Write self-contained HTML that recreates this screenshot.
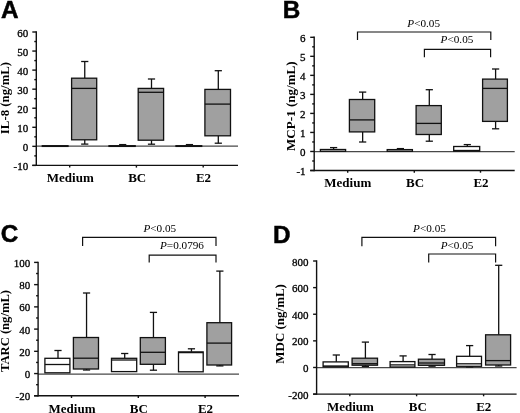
<!DOCTYPE html>
<html><head><meta charset="utf-8"><style>
html,body{margin:0;padding:0;background:#fff;}
body{width:520px;height:413px;overflow:hidden;}
svg{display:block;will-change:transform;}
</style></head><body>
<svg width="520" height="413" viewBox="0 0 520 413">
<rect width="520" height="413" fill="#fff"/>
<line x1="36.30" y1="146.20" x2="238.00" y2="146.20" stroke="#484848" stroke-width="1.2"/>
<rect x="42.30" y="145.70" width="25.70" height="0.70" fill="#fff" stroke="#111" stroke-width="1.3"/>
<line x1="84.75" y1="61.50" x2="84.75" y2="78.20" stroke="#111" stroke-width="1.3"/>
<line x1="81.15" y1="61.50" x2="88.35" y2="61.50" stroke="#111" stroke-width="1.3"/>
<line x1="84.75" y1="139.80" x2="84.75" y2="144.10" stroke="#111" stroke-width="1.3"/>
<line x1="81.15" y1="144.10" x2="88.35" y2="144.10" stroke="#111" stroke-width="1.3"/>
<rect x="71.60" y="78.20" width="25.10" height="61.60" fill="#a0a0a0" stroke="#111" stroke-width="1.3"/>
<line x1="71.60" y1="88.40" x2="96.70" y2="88.40" stroke="#111" stroke-width="1.3"/>
<line x1="122.70" y1="144.60" x2="122.70" y2="145.70" stroke="#111" stroke-width="1.3"/>
<line x1="119.10" y1="144.60" x2="126.30" y2="144.60" stroke="#111" stroke-width="1.3"/>
<rect x="109.00" y="145.70" width="26.20" height="0.70" fill="#fff" stroke="#111" stroke-width="1.3"/>
<line x1="151.50" y1="79.00" x2="151.50" y2="88.40" stroke="#111" stroke-width="1.3"/>
<line x1="147.90" y1="79.00" x2="155.10" y2="79.00" stroke="#111" stroke-width="1.3"/>
<line x1="151.50" y1="140.20" x2="151.50" y2="144.20" stroke="#111" stroke-width="1.3"/>
<line x1="147.90" y1="144.20" x2="155.10" y2="144.20" stroke="#111" stroke-width="1.3"/>
<rect x="138.20" y="88.40" width="25.40" height="51.80" fill="#a0a0a0" stroke="#111" stroke-width="1.3"/>
<line x1="138.20" y1="92.30" x2="163.60" y2="92.30" stroke="#111" stroke-width="1.3"/>
<line x1="189.45" y1="144.60" x2="189.45" y2="145.70" stroke="#111" stroke-width="1.3"/>
<line x1="185.85" y1="144.60" x2="193.05" y2="144.60" stroke="#111" stroke-width="1.3"/>
<rect x="176.00" y="145.70" width="25.70" height="0.70" fill="#fff" stroke="#111" stroke-width="1.3"/>
<line x1="218.30" y1="70.70" x2="218.30" y2="89.40" stroke="#111" stroke-width="1.3"/>
<line x1="214.70" y1="70.70" x2="221.90" y2="70.70" stroke="#111" stroke-width="1.3"/>
<line x1="218.30" y1="135.80" x2="218.30" y2="143.20" stroke="#111" stroke-width="1.3"/>
<line x1="214.70" y1="143.20" x2="221.90" y2="143.20" stroke="#111" stroke-width="1.3"/>
<rect x="204.90" y="89.40" width="25.60" height="46.40" fill="#a0a0a0" stroke="#111" stroke-width="1.3"/>
<line x1="204.90" y1="104.10" x2="230.50" y2="104.10" stroke="#111" stroke-width="1.3"/>
<line x1="36.30" y1="31.30" x2="36.30" y2="166.10" stroke="#111" stroke-width="1.4"/>
<line x1="32.30" y1="165.40" x2="238.00" y2="165.40" stroke="#111" stroke-width="1.4"/>
<line x1="32.30" y1="32.00" x2="36.30" y2="32.00" stroke="#111" stroke-width="1.4"/>
<text x="28.20" y="36.55" font-family='"Liberation Serif", serif' font-size="11.0" font-weight="normal" text-anchor="end" stroke="#000" stroke-width="0.3">60</text>
<line x1="32.30" y1="51.06" x2="36.30" y2="51.06" stroke="#111" stroke-width="1.4"/>
<text x="28.20" y="55.61" font-family='"Liberation Serif", serif' font-size="11.0" font-weight="normal" text-anchor="end" stroke="#000" stroke-width="0.3">50</text>
<line x1="32.30" y1="70.11" x2="36.30" y2="70.11" stroke="#111" stroke-width="1.4"/>
<text x="28.20" y="74.66" font-family='"Liberation Serif", serif' font-size="11.0" font-weight="normal" text-anchor="end" stroke="#000" stroke-width="0.3">40</text>
<line x1="32.30" y1="89.17" x2="36.30" y2="89.17" stroke="#111" stroke-width="1.4"/>
<text x="28.20" y="93.72" font-family='"Liberation Serif", serif' font-size="11.0" font-weight="normal" text-anchor="end" stroke="#000" stroke-width="0.3">30</text>
<line x1="32.30" y1="108.23" x2="36.30" y2="108.23" stroke="#111" stroke-width="1.4"/>
<text x="28.20" y="112.78" font-family='"Liberation Serif", serif' font-size="11.0" font-weight="normal" text-anchor="end" stroke="#000" stroke-width="0.3">20</text>
<line x1="32.30" y1="127.29" x2="36.30" y2="127.29" stroke="#111" stroke-width="1.4"/>
<text x="28.20" y="131.84" font-family='"Liberation Serif", serif' font-size="11.0" font-weight="normal" text-anchor="end" stroke="#000" stroke-width="0.3">10</text>
<line x1="32.30" y1="146.34" x2="36.30" y2="146.34" stroke="#111" stroke-width="1.4"/>
<text x="28.20" y="150.89" font-family='"Liberation Serif", serif' font-size="11.0" font-weight="normal" text-anchor="end" stroke="#000" stroke-width="0.3">0</text>
<line x1="32.30" y1="165.40" x2="36.30" y2="165.40" stroke="#111" stroke-width="1.4"/>
<text x="28.20" y="169.95" font-family='"Liberation Serif", serif' font-size="11.0" font-weight="normal" text-anchor="end" stroke="#000" stroke-width="0.3">-10</text>
<line x1="34.30" y1="41.53" x2="36.30" y2="41.53" stroke="#111" stroke-width="1.4"/>
<line x1="34.30" y1="60.59" x2="36.30" y2="60.59" stroke="#111" stroke-width="1.4"/>
<line x1="34.30" y1="79.64" x2="36.30" y2="79.64" stroke="#111" stroke-width="1.4"/>
<line x1="34.30" y1="98.70" x2="36.30" y2="98.70" stroke="#111" stroke-width="1.4"/>
<line x1="34.30" y1="117.76" x2="36.30" y2="117.76" stroke="#111" stroke-width="1.4"/>
<line x1="34.30" y1="136.81" x2="36.30" y2="136.81" stroke="#111" stroke-width="1.4"/>
<line x1="34.30" y1="155.87" x2="36.30" y2="155.87" stroke="#111" stroke-width="1.4"/>
<line x1="69.70" y1="165.40" x2="69.70" y2="167.60" stroke="#111" stroke-width="1.4"/>
<line x1="136.40" y1="165.40" x2="136.40" y2="167.60" stroke="#111" stroke-width="1.4"/>
<line x1="203.20" y1="165.40" x2="203.20" y2="167.60" stroke="#111" stroke-width="1.4"/>
<text x="70.30" y="182.00" font-family='"Liberation Serif", serif' font-size="13.0" font-weight="bold" text-anchor="middle" >Medium</text>
<text x="137.20" y="182.00" font-family='"Liberation Serif", serif' font-size="13.0" font-weight="bold" text-anchor="middle" >BC</text>
<text x="203.50" y="182.00" font-family='"Liberation Serif", serif' font-size="13.0" font-weight="bold" text-anchor="middle" >E2</text>
<text transform="translate(9.40,98.00) rotate(-90) scale(0.95,1)" font-family='"Liberation Serif", serif' font-size="13.5" font-weight="bold" text-anchor="middle">IL-8 (ng/mL)</text>
<text x="0.90" y="18.40" font-family='"Liberation Sans", sans-serif' font-size="24.3" font-weight="bold" text-anchor="start" stroke="#000" stroke-width="0.5">A</text>
<line x1="314.20" y1="151.70" x2="514.70" y2="151.70" stroke="#484848" stroke-width="1.2"/>
<line x1="333.60" y1="147.60" x2="333.60" y2="149.50" stroke="#111" stroke-width="1.3"/>
<line x1="330.00" y1="147.60" x2="337.20" y2="147.60" stroke="#111" stroke-width="1.3"/>
<rect x="320.40" y="149.50" width="25.20" height="1.80" fill="#fff" stroke="#111" stroke-width="1.3"/>
<line x1="362.65" y1="92.10" x2="362.65" y2="99.50" stroke="#111" stroke-width="1.3"/>
<line x1="359.05" y1="92.10" x2="366.25" y2="92.10" stroke="#111" stroke-width="1.3"/>
<line x1="362.65" y1="131.90" x2="362.65" y2="142.00" stroke="#111" stroke-width="1.3"/>
<line x1="359.05" y1="142.00" x2="366.25" y2="142.00" stroke="#111" stroke-width="1.3"/>
<rect x="349.40" y="99.50" width="25.30" height="32.40" fill="#a0a0a0" stroke="#111" stroke-width="1.3"/>
<line x1="349.40" y1="119.90" x2="374.70" y2="119.90" stroke="#111" stroke-width="1.3"/>
<line x1="400.40" y1="148.60" x2="400.40" y2="149.60" stroke="#111" stroke-width="1.3"/>
<line x1="396.80" y1="148.60" x2="404.00" y2="148.60" stroke="#111" stroke-width="1.3"/>
<rect x="387.20" y="149.60" width="25.20" height="1.70" fill="#fff" stroke="#111" stroke-width="1.3"/>
<line x1="429.30" y1="89.70" x2="429.30" y2="105.60" stroke="#111" stroke-width="1.3"/>
<line x1="425.70" y1="89.70" x2="432.90" y2="89.70" stroke="#111" stroke-width="1.3"/>
<line x1="429.30" y1="134.50" x2="429.30" y2="141.20" stroke="#111" stroke-width="1.3"/>
<line x1="425.70" y1="141.20" x2="432.90" y2="141.20" stroke="#111" stroke-width="1.3"/>
<rect x="416.10" y="105.60" width="25.20" height="28.90" fill="#a0a0a0" stroke="#111" stroke-width="1.3"/>
<line x1="416.10" y1="123.40" x2="441.30" y2="123.40" stroke="#111" stroke-width="1.3"/>
<line x1="467.30" y1="144.60" x2="467.30" y2="146.50" stroke="#111" stroke-width="1.3"/>
<line x1="463.70" y1="144.60" x2="470.90" y2="144.60" stroke="#111" stroke-width="1.3"/>
<rect x="453.70" y="146.50" width="26.00" height="4.60" fill="#fff" stroke="#111" stroke-width="1.3"/>
<line x1="453.70" y1="150.50" x2="479.70" y2="150.50" stroke="#111" stroke-width="1.3"/>
<line x1="495.60" y1="69.00" x2="495.60" y2="79.10" stroke="#111" stroke-width="1.3"/>
<line x1="492.00" y1="69.00" x2="499.20" y2="69.00" stroke="#111" stroke-width="1.3"/>
<line x1="495.60" y1="121.40" x2="495.60" y2="128.80" stroke="#111" stroke-width="1.3"/>
<line x1="492.00" y1="128.80" x2="499.20" y2="128.80" stroke="#111" stroke-width="1.3"/>
<rect x="482.60" y="79.10" width="24.80" height="42.30" fill="#a0a0a0" stroke="#111" stroke-width="1.3"/>
<line x1="482.60" y1="88.40" x2="507.40" y2="88.40" stroke="#111" stroke-width="1.3"/>
<line x1="314.20" y1="36.60" x2="314.20" y2="171.20" stroke="#111" stroke-width="1.4"/>
<line x1="310.20" y1="170.50" x2="514.70" y2="170.50" stroke="#111" stroke-width="1.4"/>
<line x1="310.20" y1="37.30" x2="314.20" y2="37.30" stroke="#111" stroke-width="1.4"/>
<text x="305.60" y="41.85" font-family='"Liberation Serif", serif' font-size="11.0" font-weight="normal" text-anchor="end" stroke="#000" stroke-width="0.3">6</text>
<line x1="310.20" y1="56.33" x2="314.20" y2="56.33" stroke="#111" stroke-width="1.4"/>
<text x="305.60" y="60.88" font-family='"Liberation Serif", serif' font-size="11.0" font-weight="normal" text-anchor="end" stroke="#000" stroke-width="0.3">5</text>
<line x1="310.20" y1="75.36" x2="314.20" y2="75.36" stroke="#111" stroke-width="1.4"/>
<text x="305.60" y="79.91" font-family='"Liberation Serif", serif' font-size="11.0" font-weight="normal" text-anchor="end" stroke="#000" stroke-width="0.3">4</text>
<line x1="310.20" y1="94.39" x2="314.20" y2="94.39" stroke="#111" stroke-width="1.4"/>
<text x="305.60" y="98.94" font-family='"Liberation Serif", serif' font-size="11.0" font-weight="normal" text-anchor="end" stroke="#000" stroke-width="0.3">3</text>
<line x1="310.20" y1="113.41" x2="314.20" y2="113.41" stroke="#111" stroke-width="1.4"/>
<text x="305.60" y="117.96" font-family='"Liberation Serif", serif' font-size="11.0" font-weight="normal" text-anchor="end" stroke="#000" stroke-width="0.3">2</text>
<line x1="310.20" y1="132.44" x2="314.20" y2="132.44" stroke="#111" stroke-width="1.4"/>
<text x="305.60" y="136.99" font-family='"Liberation Serif", serif' font-size="11.0" font-weight="normal" text-anchor="end" stroke="#000" stroke-width="0.3">1</text>
<line x1="310.20" y1="151.47" x2="314.20" y2="151.47" stroke="#111" stroke-width="1.4"/>
<text x="305.60" y="156.02" font-family='"Liberation Serif", serif' font-size="11.0" font-weight="normal" text-anchor="end" stroke="#000" stroke-width="0.3">0</text>
<line x1="310.20" y1="170.50" x2="314.20" y2="170.50" stroke="#111" stroke-width="1.4"/>
<text x="305.60" y="175.05" font-family='"Liberation Serif", serif' font-size="11.0" font-weight="normal" text-anchor="end" stroke="#000" stroke-width="0.3">-1</text>
<line x1="312.20" y1="46.81" x2="314.20" y2="46.81" stroke="#111" stroke-width="1.4"/>
<line x1="312.20" y1="65.84" x2="314.20" y2="65.84" stroke="#111" stroke-width="1.4"/>
<line x1="312.20" y1="84.87" x2="314.20" y2="84.87" stroke="#111" stroke-width="1.4"/>
<line x1="312.20" y1="103.90" x2="314.20" y2="103.90" stroke="#111" stroke-width="1.4"/>
<line x1="312.20" y1="122.93" x2="314.20" y2="122.93" stroke="#111" stroke-width="1.4"/>
<line x1="312.20" y1="141.96" x2="314.20" y2="141.96" stroke="#111" stroke-width="1.4"/>
<line x1="312.20" y1="160.99" x2="314.20" y2="160.99" stroke="#111" stroke-width="1.4"/>
<line x1="347.70" y1="170.50" x2="347.70" y2="172.70" stroke="#111" stroke-width="1.4"/>
<line x1="414.30" y1="170.50" x2="414.30" y2="172.70" stroke="#111" stroke-width="1.4"/>
<line x1="480.50" y1="170.50" x2="480.50" y2="172.70" stroke="#111" stroke-width="1.4"/>
<text x="347.80" y="187.40" font-family='"Liberation Serif", serif' font-size="13.0" font-weight="bold" text-anchor="middle" >Medium</text>
<text x="415.00" y="187.40" font-family='"Liberation Serif", serif' font-size="13.0" font-weight="bold" text-anchor="middle" >BC</text>
<text x="481.00" y="187.40" font-family='"Liberation Serif", serif' font-size="13.0" font-weight="bold" text-anchor="middle" >E2</text>
<text transform="translate(294.80,106.20) rotate(-90) scale(0.97,1)" font-family='"Liberation Serif", serif' font-size="13.5" font-weight="bold" text-anchor="middle">MCP-1 (ng/mL)</text>
<text x="282.70" y="18.40" font-family='"Liberation Sans", sans-serif' font-size="24.3" font-weight="bold" text-anchor="start" stroke="#000" stroke-width="0.5">B</text>
<path d="M357.50,40.00 V32.00 H490.80 V40.00" fill="none" stroke="#111" stroke-width="1.2"/>
<path d="M424.40,57.20 V49.40 H490.60 V57.20" fill="none" stroke="#111" stroke-width="1.2"/>
<text x="407.30" y="26.50" font-family='"Liberation Serif", serif' font-size="11.2"><tspan font-style="italic">P</tspan>&lt;0.05</text>
<text x="440.60" y="43.40" font-family='"Liberation Serif", serif' font-size="11.2"><tspan font-style="italic">P</tspan>&lt;0.05</text>
<line x1="38.10" y1="374.20" x2="239.00" y2="374.20" stroke="#484848" stroke-width="1.2"/>
<line x1="58.00" y1="350.50" x2="58.00" y2="358.30" stroke="#111" stroke-width="1.3"/>
<line x1="54.40" y1="350.50" x2="61.60" y2="350.50" stroke="#111" stroke-width="1.3"/>
<rect x="44.90" y="358.30" width="25.00" height="14.50" fill="#fff" stroke="#111" stroke-width="1.3"/>
<line x1="44.90" y1="364.50" x2="69.90" y2="364.50" stroke="#111" stroke-width="1.3"/>
<line x1="86.55" y1="293.00" x2="86.55" y2="337.50" stroke="#111" stroke-width="1.3"/>
<line x1="82.95" y1="293.00" x2="90.15" y2="293.00" stroke="#111" stroke-width="1.3"/>
<line x1="86.55" y1="369.00" x2="86.55" y2="370.00" stroke="#111" stroke-width="1.3"/>
<line x1="82.95" y1="370.00" x2="90.15" y2="370.00" stroke="#111" stroke-width="1.3"/>
<rect x="73.40" y="337.50" width="25.10" height="31.50" fill="#a0a0a0" stroke="#111" stroke-width="1.3"/>
<line x1="73.40" y1="358.20" x2="98.50" y2="358.20" stroke="#111" stroke-width="1.3"/>
<line x1="124.70" y1="353.50" x2="124.70" y2="358.30" stroke="#111" stroke-width="1.3"/>
<line x1="121.10" y1="353.50" x2="128.30" y2="353.50" stroke="#111" stroke-width="1.3"/>
<rect x="111.50" y="358.30" width="25.20" height="13.30" fill="#fff" stroke="#111" stroke-width="1.3"/>
<line x1="111.50" y1="360.00" x2="136.70" y2="360.00" stroke="#111" stroke-width="1.3"/>
<line x1="153.45" y1="312.40" x2="153.45" y2="337.60" stroke="#111" stroke-width="1.3"/>
<line x1="149.85" y1="312.40" x2="157.05" y2="312.40" stroke="#111" stroke-width="1.3"/>
<line x1="153.45" y1="364.30" x2="153.45" y2="370.20" stroke="#111" stroke-width="1.3"/>
<line x1="149.85" y1="370.20" x2="157.05" y2="370.20" stroke="#111" stroke-width="1.3"/>
<rect x="140.30" y="337.60" width="25.10" height="26.70" fill="#a0a0a0" stroke="#111" stroke-width="1.3"/>
<line x1="140.30" y1="352.30" x2="165.40" y2="352.30" stroke="#111" stroke-width="1.3"/>
<line x1="191.45" y1="348.80" x2="191.45" y2="351.90" stroke="#111" stroke-width="1.3"/>
<line x1="187.85" y1="348.80" x2="195.05" y2="348.80" stroke="#111" stroke-width="1.3"/>
<rect x="178.50" y="351.90" width="24.70" height="19.90" fill="#fff" stroke="#111" stroke-width="1.3"/>
<line x1="178.50" y1="352.60" x2="203.20" y2="352.60" stroke="#111" stroke-width="1.3"/>
<line x1="219.85" y1="271.10" x2="219.85" y2="322.70" stroke="#111" stroke-width="1.3"/>
<line x1="216.25" y1="271.10" x2="223.45" y2="271.10" stroke="#111" stroke-width="1.3"/>
<line x1="219.85" y1="365.00" x2="219.85" y2="365.90" stroke="#111" stroke-width="1.3"/>
<line x1="216.25" y1="365.90" x2="223.45" y2="365.90" stroke="#111" stroke-width="1.3"/>
<rect x="206.90" y="322.70" width="24.70" height="42.30" fill="#a0a0a0" stroke="#111" stroke-width="1.3"/>
<line x1="206.90" y1="343.10" x2="231.60" y2="343.10" stroke="#111" stroke-width="1.3"/>
<line x1="38.10" y1="261.70" x2="38.10" y2="396.50" stroke="#111" stroke-width="1.4"/>
<line x1="34.10" y1="395.80" x2="239.00" y2="395.80" stroke="#111" stroke-width="1.4"/>
<line x1="34.10" y1="262.40" x2="38.10" y2="262.40" stroke="#111" stroke-width="1.4"/>
<text x="30.20" y="266.95" font-family='"Liberation Serif", serif' font-size="11.0" font-weight="normal" text-anchor="end" stroke="#000" stroke-width="0.3">100</text>
<line x1="34.10" y1="284.63" x2="38.10" y2="284.63" stroke="#111" stroke-width="1.4"/>
<text x="30.20" y="289.18" font-family='"Liberation Serif", serif' font-size="11.0" font-weight="normal" text-anchor="end" stroke="#000" stroke-width="0.3">80</text>
<line x1="34.10" y1="306.87" x2="38.10" y2="306.87" stroke="#111" stroke-width="1.4"/>
<text x="30.20" y="311.42" font-family='"Liberation Serif", serif' font-size="11.0" font-weight="normal" text-anchor="end" stroke="#000" stroke-width="0.3">60</text>
<line x1="34.10" y1="329.10" x2="38.10" y2="329.10" stroke="#111" stroke-width="1.4"/>
<text x="30.20" y="333.65" font-family='"Liberation Serif", serif' font-size="11.0" font-weight="normal" text-anchor="end" stroke="#000" stroke-width="0.3">40</text>
<line x1="34.10" y1="351.33" x2="38.10" y2="351.33" stroke="#111" stroke-width="1.4"/>
<text x="30.20" y="355.88" font-family='"Liberation Serif", serif' font-size="11.0" font-weight="normal" text-anchor="end" stroke="#000" stroke-width="0.3">20</text>
<line x1="34.10" y1="373.57" x2="38.10" y2="373.57" stroke="#111" stroke-width="1.4"/>
<text x="30.20" y="378.12" font-family='"Liberation Serif", serif' font-size="11.0" font-weight="normal" text-anchor="end" stroke="#000" stroke-width="0.3">0</text>
<line x1="34.10" y1="395.80" x2="38.10" y2="395.80" stroke="#111" stroke-width="1.4"/>
<text x="30.20" y="400.35" font-family='"Liberation Serif", serif' font-size="11.0" font-weight="normal" text-anchor="end" stroke="#000" stroke-width="0.3">-20</text>
<line x1="36.10" y1="273.52" x2="38.10" y2="273.52" stroke="#111" stroke-width="1.4"/>
<line x1="36.10" y1="295.75" x2="38.10" y2="295.75" stroke="#111" stroke-width="1.4"/>
<line x1="36.10" y1="317.98" x2="38.10" y2="317.98" stroke="#111" stroke-width="1.4"/>
<line x1="36.10" y1="340.22" x2="38.10" y2="340.22" stroke="#111" stroke-width="1.4"/>
<line x1="36.10" y1="362.45" x2="38.10" y2="362.45" stroke="#111" stroke-width="1.4"/>
<line x1="36.10" y1="384.68" x2="38.10" y2="384.68" stroke="#111" stroke-width="1.4"/>
<line x1="71.50" y1="395.80" x2="71.50" y2="398.00" stroke="#111" stroke-width="1.4"/>
<line x1="138.30" y1="395.80" x2="138.30" y2="398.00" stroke="#111" stroke-width="1.4"/>
<line x1="205.10" y1="395.80" x2="205.10" y2="398.00" stroke="#111" stroke-width="1.4"/>
<text x="72.00" y="412.80" font-family='"Liberation Serif", serif' font-size="13.0" font-weight="bold" text-anchor="middle" >Medium</text>
<text x="138.80" y="412.80" font-family='"Liberation Serif", serif' font-size="13.0" font-weight="bold" text-anchor="middle" >BC</text>
<text x="205.50" y="412.80" font-family='"Liberation Serif", serif' font-size="13.0" font-weight="bold" text-anchor="middle" >E2</text>
<text transform="translate(9.20,331.00) rotate(-90) scale(0.935,1)" font-family='"Liberation Serif", serif' font-size="13.5" font-weight="bold" text-anchor="middle">TARC (ng/mL)</text>
<text x="0.70" y="241.80" font-family='"Liberation Sans", sans-serif' font-size="24.3" font-weight="bold" text-anchor="start" stroke="#000" stroke-width="0.5">C</text>
<path d="M82.60,246.00 V237.40 H216.00 V246.00" fill="none" stroke="#111" stroke-width="1.2"/>
<path d="M149.20,262.40 V255.10 H216.00 V262.40" fill="none" stroke="#111" stroke-width="1.2"/>
<text x="143.40" y="232.20" font-family='"Liberation Serif", serif' font-size="11.2"><tspan font-style="italic">P</tspan>&lt;0.05</text>
<text x="160.00" y="248.50" font-family='"Liberation Serif", serif' font-size="11.2"><tspan font-style="italic">P</tspan>=0.0796</text>
<line x1="316.60" y1="367.60" x2="516.60" y2="367.60" stroke="#484848" stroke-width="1.2"/>
<line x1="336.30" y1="355.00" x2="336.30" y2="361.90" stroke="#111" stroke-width="1.3"/>
<line x1="332.70" y1="355.00" x2="339.90" y2="355.00" stroke="#111" stroke-width="1.3"/>
<rect x="323.10" y="361.90" width="25.20" height="4.90" fill="#fff" stroke="#111" stroke-width="1.3"/>
<line x1="323.10" y1="366.00" x2="348.30" y2="366.00" stroke="#111" stroke-width="1.3"/>
<line x1="365.40" y1="342.10" x2="365.40" y2="358.20" stroke="#111" stroke-width="1.3"/>
<line x1="361.80" y1="342.10" x2="369.00" y2="342.10" stroke="#111" stroke-width="1.3"/>
<line x1="365.40" y1="365.20" x2="365.40" y2="366.40" stroke="#111" stroke-width="1.3"/>
<line x1="361.80" y1="366.40" x2="369.00" y2="366.40" stroke="#111" stroke-width="1.3"/>
<rect x="352.10" y="358.20" width="25.40" height="7.00" fill="#a0a0a0" stroke="#111" stroke-width="1.3"/>
<line x1="352.10" y1="363.70" x2="377.50" y2="363.70" stroke="#111" stroke-width="1.3"/>
<line x1="403.10" y1="355.90" x2="403.10" y2="361.60" stroke="#111" stroke-width="1.3"/>
<line x1="399.50" y1="355.90" x2="406.70" y2="355.90" stroke="#111" stroke-width="1.3"/>
<rect x="390.10" y="361.60" width="24.80" height="5.40" fill="#fff" stroke="#111" stroke-width="1.3"/>
<line x1="390.10" y1="364.90" x2="414.90" y2="364.90" stroke="#111" stroke-width="1.3"/>
<line x1="432.05" y1="354.50" x2="432.05" y2="359.20" stroke="#111" stroke-width="1.3"/>
<line x1="428.45" y1="354.50" x2="435.65" y2="354.50" stroke="#111" stroke-width="1.3"/>
<line x1="432.05" y1="365.30" x2="432.05" y2="366.20" stroke="#111" stroke-width="1.3"/>
<line x1="428.45" y1="366.20" x2="435.65" y2="366.20" stroke="#111" stroke-width="1.3"/>
<rect x="418.40" y="359.20" width="26.10" height="6.10" fill="#a0a0a0" stroke="#111" stroke-width="1.3"/>
<line x1="418.40" y1="363.00" x2="444.50" y2="363.00" stroke="#111" stroke-width="1.3"/>
<line x1="469.65" y1="345.60" x2="469.65" y2="356.30" stroke="#111" stroke-width="1.3"/>
<line x1="466.05" y1="345.60" x2="473.25" y2="345.60" stroke="#111" stroke-width="1.3"/>
<line x1="469.65" y1="366.30" x2="469.65" y2="366.90" stroke="#111" stroke-width="1.3"/>
<line x1="466.05" y1="366.90" x2="473.25" y2="366.90" stroke="#111" stroke-width="1.3"/>
<rect x="456.60" y="356.30" width="24.90" height="10.00" fill="#fff" stroke="#111" stroke-width="1.3"/>
<line x1="456.60" y1="363.80" x2="481.50" y2="363.80" stroke="#111" stroke-width="1.3"/>
<line x1="498.70" y1="265.30" x2="498.70" y2="334.80" stroke="#111" stroke-width="1.3"/>
<line x1="495.10" y1="265.30" x2="502.30" y2="265.30" stroke="#111" stroke-width="1.3"/>
<line x1="498.70" y1="365.00" x2="498.70" y2="366.00" stroke="#111" stroke-width="1.3"/>
<line x1="495.10" y1="366.00" x2="502.30" y2="366.00" stroke="#111" stroke-width="1.3"/>
<rect x="485.60" y="334.80" width="25.00" height="30.20" fill="#a0a0a0" stroke="#111" stroke-width="1.3"/>
<line x1="485.60" y1="360.60" x2="510.60" y2="360.60" stroke="#111" stroke-width="1.3"/>
<line x1="316.60" y1="260.30" x2="316.60" y2="394.80" stroke="#111" stroke-width="1.4"/>
<line x1="313.10" y1="394.10" x2="516.60" y2="394.10" stroke="#111" stroke-width="1.4"/>
<line x1="313.10" y1="261.00" x2="316.60" y2="261.00" stroke="#111" stroke-width="1.4"/>
<text x="308.40" y="265.55" font-family='"Liberation Serif", serif' font-size="11.0" font-weight="normal" text-anchor="end" stroke="#000" stroke-width="0.3">800</text>
<line x1="313.10" y1="287.62" x2="316.60" y2="287.62" stroke="#111" stroke-width="1.4"/>
<text x="308.40" y="292.17" font-family='"Liberation Serif", serif' font-size="11.0" font-weight="normal" text-anchor="end" stroke="#000" stroke-width="0.3">600</text>
<line x1="313.10" y1="314.24" x2="316.60" y2="314.24" stroke="#111" stroke-width="1.4"/>
<text x="308.40" y="318.79" font-family='"Liberation Serif", serif' font-size="11.0" font-weight="normal" text-anchor="end" stroke="#000" stroke-width="0.3">400</text>
<line x1="313.10" y1="340.86" x2="316.60" y2="340.86" stroke="#111" stroke-width="1.4"/>
<text x="308.40" y="345.41" font-family='"Liberation Serif", serif' font-size="11.0" font-weight="normal" text-anchor="end" stroke="#000" stroke-width="0.3">200</text>
<line x1="313.10" y1="367.48" x2="316.60" y2="367.48" stroke="#111" stroke-width="1.4"/>
<text x="308.40" y="372.03" font-family='"Liberation Serif", serif' font-size="11.0" font-weight="normal" text-anchor="end" stroke="#000" stroke-width="0.3">0</text>
<line x1="313.10" y1="394.10" x2="316.60" y2="394.10" stroke="#111" stroke-width="1.4"/>
<text x="308.40" y="398.65" font-family='"Liberation Serif", serif' font-size="11.0" font-weight="normal" text-anchor="end" stroke="#000" stroke-width="0.3">-200</text>
<line x1="349.80" y1="394.10" x2="349.80" y2="396.30" stroke="#111" stroke-width="1.4"/>
<line x1="416.60" y1="394.10" x2="416.60" y2="396.30" stroke="#111" stroke-width="1.4"/>
<line x1="483.60" y1="394.10" x2="483.60" y2="396.30" stroke="#111" stroke-width="1.4"/>
<text x="350.40" y="411.00" font-family='"Liberation Serif", serif' font-size="13.0" font-weight="bold" text-anchor="middle" >Medium</text>
<text x="417.80" y="411.00" font-family='"Liberation Serif", serif' font-size="13.0" font-weight="bold" text-anchor="middle" >BC</text>
<text x="483.80" y="411.00" font-family='"Liberation Serif", serif' font-size="13.0" font-weight="bold" text-anchor="middle" >E2</text>
<text transform="translate(283.80,323.90) rotate(-90) scale(0.962,1)" font-family='"Liberation Serif", serif' font-size="13.5" font-weight="bold" text-anchor="middle">MDC (ng/mL)</text>
<text x="273.10" y="242.70" font-family='"Liberation Sans", sans-serif' font-size="24.3" font-weight="bold" text-anchor="start" stroke="#000" stroke-width="0.5">D</text>
<path d="M361.90,246.20 V237.30 H495.60 V246.20" fill="none" stroke="#111" stroke-width="1.2"/>
<path d="M428.70,262.50 V254.00 H495.60 V262.50" fill="none" stroke="#111" stroke-width="1.2"/>
<text x="413.10" y="232.00" font-family='"Liberation Serif", serif' font-size="11.2"><tspan font-style="italic">P</tspan>&lt;0.05</text>
<text x="440.70" y="249.20" font-family='"Liberation Serif", serif' font-size="11.2"><tspan font-style="italic">P</tspan>&lt;0.05</text>
</svg>
</body></html>
